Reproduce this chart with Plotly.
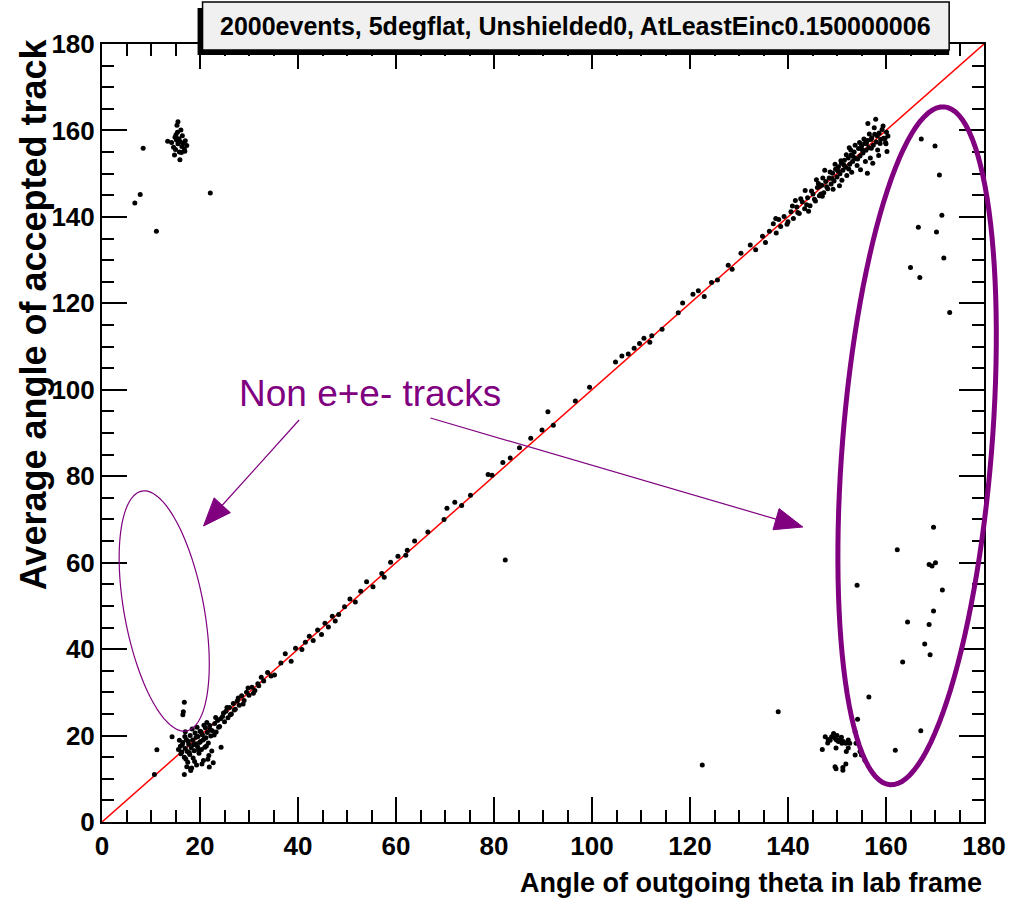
import math
import plotly.graph_objects as go

# ---- data (degrees) ----
# dense band at low angles
low_x = [16.0, 16.3, 16.5, 16.8, 17.0, 17.2, 17.4, 17.5, 17.7, 17.9, 18.0, 18.2, 18.3, 18.5, 18.6, 18.8,
         19.0, 19.1, 19.3, 19.5, 19.6, 19.8, 20.0, 20.1, 20.3, 20.5, 20.7, 20.9, 21.1, 21.3, 21.5, 21.8,
         22.0, 22.2, 22.5, 22.7, 23.0, 23.3, 23.6, 24.0, 24.3, 24.6, 25.0, 25.3, 25.7, 26.0, 26.4, 26.8,
         27.2, 27.6, 28.0, 28.5, 29.0, 29.5, 30.0, 30.6, 31.2, 31.8, 32.5, 33.0, 33.8, 34.5,
         14.3, 11.2, 10.7, 21.6, 21.9, 17.3, 18.1, 16.8, 16.8, 16.6, 16.5,
         15.8, 16.1, 16.4, 16.9, 17.1, 17.6, 17.8, 18.4, 18.7, 18.9, 19.2, 19.4, 19.7, 19.9, 20.2, 20.4,
         20.6, 20.8, 21.0, 21.2, 21.4, 21.7, 22.1, 22.4, 22.9, 23.2, 23.8, 24.2, 24.8, 25.5, 26.2, 27.0,
         27.8, 28.8, 29.8, 30.9, 32.0, 15.6, 17.0, 18.1]
low_y = [17.5, 16.2, 18.4, 15.0, 17.0, 19.1, 16.3, 13.8, 18.0, 15.6, 20.0, 17.2, 12.5, 19.0, 14.8, 16.5,
         20.6, 18.1, 13.2, 17.4, 19.8, 15.9, 21.0, 18.6, 16.8, 20.2, 14.2, 19.3, 21.8, 17.6, 20.7, 15.4,
         22.3, 19.9, 21.1, 13.7, 22.8, 20.8, 23.5, 22.1, 17.3, 24.4, 23.2, 25.6, 24.1, 26.5, 25.0, 27.4,
         26.1, 28.0, 27.0, 29.2, 28.1, 30.0, 29.3, 31.2, 30.4, 32.0, 33.5, 32.6, 34.6, 33.8,
         19.7, 16.7, 11.0, 14.5, 12.7, 12.8, 12.4, 11.0, 27.7, 25.5, 24.8,
         18.9, 15.8, 17.9, 19.8, 14.6, 18.7, 16.1, 21.5, 17.9, 14.0, 19.6, 21.9, 16.6, 18.4, 20.9, 13.4,
         19.0, 22.4, 17.3, 19.5, 23.0, 18.3, 21.4, 16.4, 20.1, 24.2, 21.9, 23.9, 25.2, 26.5, 24.8, 25.9,
         28.7, 27.3, 31.0, 29.8, 31.5, 16.8, 20.9, 11.9]

# sparse middle of the diagonal
mid_x = [35.2, 36.5, 37.4, 38.6, 39.5, 40.8, 41.5, 42.3, 43.1, 44.0, 44.8, 45.5, 46.2, 47.0, 47.6, 48.3,
         49.5, 50.6, 51.7, 52.8, 54.0, 55.3, 57.1, 57.6, 58.9, 60.4, 62.0, 62.3, 63.8, 66.5, 69.8, 70.4,
         72.0, 73.4, 75.2, 78.8, 79.6, 81.8, 83.3, 85.2, 87.5, 89.8, 91.0, 92.1, 96.6, 99.5, 104.8, 106.1,
         107.4, 108.6, 109.7, 110.6, 111.8, 112.2, 114.3, 117.6, 118.5, 120.6, 121.7, 122.9, 124.4, 125.6,
         127.8, 128.6, 130.4, 132.3, 133.4, 134.8, 135.4, 136.2, 137.0, 137.6, 138.1]
mid_y = [34.0, 36.8, 38.9, 37.2, 40.2, 39.9, 41.6, 43.0, 42.0, 44.4, 43.4, 46.0, 45.1, 47.6, 46.5, 48.0,
         49.8, 51.6, 50.9, 53.4, 55.6, 54.4, 57.5, 56.6, 60.1, 61.5, 61.7, 62.9, 65.0, 67.1, 70.0, 72.6,
         74.0, 73.2, 75.6, 80.4, 80.2, 83.2, 84.2, 86.6, 88.8, 90.7, 94.9, 91.8, 97.4, 100.6, 106.4, 107.8,
         108.3, 109.6, 110.7, 111.9, 111.0, 112.5, 114.0, 117.8, 120.1, 122.1, 122.9, 121.6, 124.8, 125.4,
         128.8, 127.9, 131.6, 133.5, 132.4, 135.5, 134.1, 136.7, 138.4, 136.3, 139.4]

# dense band at high angles
high_x = [138.5, 139.2, 140.0, 140.6, 141.1, 141.8, 142.3, 142.9, 143.4, 144.0, 144.5, 145.1, 145.6, 146.0,
          146.4, 146.9, 147.3, 147.7, 148.1, 148.4, 148.8, 149.1, 149.4, 149.7, 150.0, 150.3, 150.6, 150.9,
          151.2, 151.5, 151.8, 152.0, 152.3, 152.6, 152.9, 153.2, 153.5, 153.8, 154.1, 154.4, 154.7, 155.0,
          155.3, 155.6, 155.9, 156.2, 156.5, 156.8, 157.1, 157.4, 157.7, 158.0, 158.3, 158.6, 158.9, 159.2,
          159.5, 160.0, 160.4, 156.3, 150.5, 147.5, 145.8, 143.5, 141.5, 152.5, 154.8, 159.8, 160.2, 159.9,
          156.2, 157.3, 146.5,
          137.5, 139.8, 140.9, 142.0, 142.6, 143.8, 144.8, 145.4, 146.2, 146.7, 147.1, 147.9, 148.6, 149.0,
          149.6, 150.2, 150.8, 151.4, 151.9, 152.4, 152.8, 153.3, 153.7, 154.2, 154.6, 155.1, 155.5, 156.0,
          156.6, 157.0, 157.6, 158.2, 158.8, 159.4, 160.1, 155.8, 153.0, 151.0, 149.2, 147.0, 144.2, 157.9,
          158.5, 156.9]
high_y = [137.8, 140.1, 138.9, 141.2, 139.6, 142.3, 140.8, 143.5, 141.9, 144.4, 142.6, 145.3, 143.7, 146.8,
          144.9, 147.3, 145.6, 148.2, 146.5, 149.0, 147.6, 150.1, 148.3, 151.0, 149.2, 151.6, 150.0, 152.4,
          150.8, 153.1, 151.5, 149.6, 153.6, 152.2, 154.3, 152.8, 155.0, 153.5, 151.9, 155.8, 154.1, 156.4,
          154.8, 157.0, 155.4, 157.7, 156.0, 153.6, 158.3, 156.6, 159.1, 157.3, 155.5, 159.4, 157.9, 160.2,
          158.2, 156.9, 158.7, 161.6, 147.2, 150.8, 148.6, 146.1, 143.8, 156.0, 150.9, 158.2, 155.1, 157.2,
          150.1, 152.4, 147.1,
          139.6, 138.3, 142.5, 141.0, 144.2, 142.8, 146.0, 144.1, 147.7, 145.3, 149.0, 147.0, 150.4, 148.9,
          152.2, 150.6, 153.0, 152.0, 154.4, 151.1, 155.5, 154.0, 156.6, 153.4, 157.2, 155.6, 158.0, 156.9,
          159.2, 155.9, 160.6, 158.8, 157.0, 161.0, 159.6, 152.8, 150.3, 148.5, 146.4, 144.8, 141.3, 162.6,
          154.2, 157.9]

# forward cluster reconstructed backwards (top left)
tl_x = [14.2, 14.6, 14.9, 15.0, 15.2, 15.4, 15.5, 15.7, 15.8, 16.0, 16.1, 16.3, 16.4, 16.6, 16.8, 17.0,
        17.3, 15.3, 14.8, 15.9, 16.2, 13.4, 15.5, 16.9, 15.1, 8.4, 7.8, 6.7, 22.1, 11.1]
tl_y = [157.2, 156.1, 158.4, 155.6, 157.8, 159.6, 156.9, 158.1, 155.0, 157.4, 160.1, 156.3, 158.8, 157.0,
        155.7, 157.6, 156.5, 161.2, 154.3, 153.2, 154.9, 157.5, 162.0, 155.2, 159.0, 155.9, 145.2, 143.2,
        145.5, 136.7]

# backward cluster (bottom right)
br_x = [147.0, 148.1, 147.6, 148.9, 149.3, 149.6, 149.9, 150.3, 150.6, 151.0, 151.3, 149.8, 151.8, 152.3,
        148.2, 153.7, 152.6, 152.3, 151.9, 153.7, 154.7, 155.0, 155.7, 153.9, 149.6, 149.8, 151.2, 151.2,
        151.8, 150.0, 148.6, 150.9, 154.2]
br_y = [16.8, 18.3, 19.7, 19.7, 20.5, 19.4, 19.0, 18.6, 19.0, 18.2, 18.6, 17.1, 18.2, 19.0, 19.1, 20.9,
        18.2, 17.1, 16.3, 15.5, 16.3, 15.5, 14.3, 18.2, 12.8, 12.3, 12.6, 12.0, 13.4, 20.0, 18.9, 19.6, 23.8]

# isolated non e+e- entries
out_x = [82.3, 122.5, 138.0, 167.2, 170.0, 170.9, 171.4, 166.6, 170.3, 171.8, 165.0, 166.9, 173.0,
         169.7, 162.3, 168.8, 169.4, 170.1, 154.1, 171.5, 169.7, 164.4, 168.8, 167.9, 169.0, 163.4,
         156.5, 167.1, 161.9]
out_y = [60.6, 13.2, 25.5, 158.0, 156.4, 149.7, 140.4, 137.6, 136.5, 130.5, 128.3, 126.0, 117.9,
         68.2, 63.0, 59.6, 59.2, 60.0, 54.8, 53.7, 48.8, 46.3, 45.7, 41.2, 38.7, 37.0,
         28.9, 21.1, 16.6]

diag = [0, 180]

xs = low_x + mid_x + high_x + tl_x + br_x + out_x
ys = low_y + mid_y + high_y + tl_y + br_y + out_y

title = "2000events, 5degflat, Unshielded0, AtLeastEinc0.150000006"
xlabel = "Angle of outgoing theta in lab frame"
ylabel = "Average angle of accepted track"
note = "Non e+e- tracks"

PURPLE = "#800080"
FONT = "Liberation Sans, Arial, Helvetica, sans-serif"

# frame in pixels
L, R, T, B = 102, 988, 44, 822


def px(x):
    return (x - L) / (R - L)


def py(y):
    return (B - y) / (B - T)


def ellipse_path(cx, cy, a, b, tilt_deg, n=120):
    # tilt measured from vertical (positive = top leans right), pixels -> paper
    th = math.radians(tilt_deg)
    u = (math.sin(th), -math.cos(th))
    v = (math.cos(th), math.sin(th))
    pts = []
    for i in range(n + 1):
        t = 2 * math.pi * i / n
        x = cx + a * math.cos(t) * u[0] + b * math.sin(t) * v[0]
        y = cy + a * math.cos(t) * u[1] + b * math.sin(t) * v[1]
        pts.append(f"{px(x):.5f},{py(y):.5f}")
    return "M" + " L".join(pts) + " Z"


def arrow_shapes(x0, y0, x1, y1, head_len=28, head_half=11):
    dx, dy = x1 - x0, y1 - y0
    d = math.hypot(dx, dy)
    ux, uy = dx / d, dy / d
    bx, by = x1 - head_len * ux, y1 - head_len * uy
    c1 = (bx - head_half * uy, by + head_half * ux)
    c2 = (bx + head_half * uy, by - head_half * ux)
    line = dict(type="line", xref="paper", yref="paper", x0=px(x0), y0=py(y0), x1=px(bx), y1=py(by),
                line=dict(color=PURPLE, width=1.2))
    head = dict(type="path", xref="paper", yref="paper",
                path=f"M{px(x1):.5f},{py(y1):.5f} L{px(c1[0]):.5f},{py(c1[1]):.5f} "
                     f"L{px(c2[0]):.5f},{py(c2[1]):.5f} Z",
                fillcolor=PURPLE, line=dict(color=PURPLE, width=1))
    return [line, head]


fig = go.Figure()
fig.add_trace(go.Scatter(x=diag, y=diag, mode="lines", line=dict(color="red", width=1.5),
                         hoverinfo="skip", showlegend=False))
fig.add_trace(go.Scatter(x=xs, y=ys, mode="markers", marker=dict(color="black", size=5),
                         showlegend=False))

axis_common = dict(
    range=[0, 180], dtick=20, showgrid=False, zeroline=False,
    showline=True, linecolor="black", linewidth=2, mirror="allticks",
    ticks="inside", ticklen=25, tickwidth=1.5, tickcolor="black",
    minor=dict(dtick=5, ticks="inside", ticklen=12, tickwidth=1.5, tickcolor="black"),
    tickfont=dict(family=FONT, size=26, color="black", weight="bold"),
)

shapes = []
# title box with shadow
shapes.append(dict(type="rect", xref="paper", yref="paper", x0=px(198), x1=px(953), y0=py(8), y1=py(55),
                   fillcolor="black", line=dict(width=0)))
shapes.append(dict(type="rect", xref="paper", yref="paper", x0=px(203), x1=px(953), y0=py(2), y1=py(50),
                   fillcolor="#f0f0f0", line=dict(color="black", width=1.5)))
# ellipses
shapes.append(dict(type="path", xref="paper", yref="paper", path=ellipse_path(164.5, 611, 122, 40, -10.6),
                   line=dict(color=PURPLE, width=1.2)))
shapes.append(dict(type="path", xref="paper", yref="paper", path=ellipse_path(920.8, 445.8, 340, 75, 4.6),
                   line=dict(color=PURPLE, width=5)))
# arrows
shapes += arrow_shapes(300, 420, 204, 526)
shapes += arrow_shapes(432, 418, 806, 527)

annotations = [
    dict(text=title, xref="paper", yref="paper", x=px(578), y=py(26), showarrow=False,
         xanchor="center", yanchor="middle",
         font=dict(family=FONT, size=25, color="black", weight="bold")),
    dict(text=xlabel, xref="paper", yref="paper", x=1, y=py(883), showarrow=False,
         xanchor="right", yanchor="middle",
         font=dict(family=FONT, size=27, color="black", weight="bold")),
    dict(text=ylabel, xref="paper", yref="paper", x=px(34), y=py(36), showarrow=False, textangle=-90,
         xanchor="center", yanchor="top",
         font=dict(family=FONT, size=36, color="black", weight="bold")),
    dict(text=note, xref="paper", yref="paper", x=px(371), y=py(393), showarrow=False,
         xanchor="center", yanchor="middle",
         font=dict(family=FONT, size=37, color=PURPLE)),
]

fig.update_layout(
    width=1018, height=907,
    margin=dict(l=L, r=1018 - R, t=T, b=907 - B),
    paper_bgcolor="white", plot_bgcolor="white",
    xaxis=axis_common, yaxis=axis_common,
    shapes=shapes, annotations=annotations,
    showlegend=False,
)

fig.write_html("out.html", config={"displayModeBar": False},
               post_script="document.body.style.margin='0';")
